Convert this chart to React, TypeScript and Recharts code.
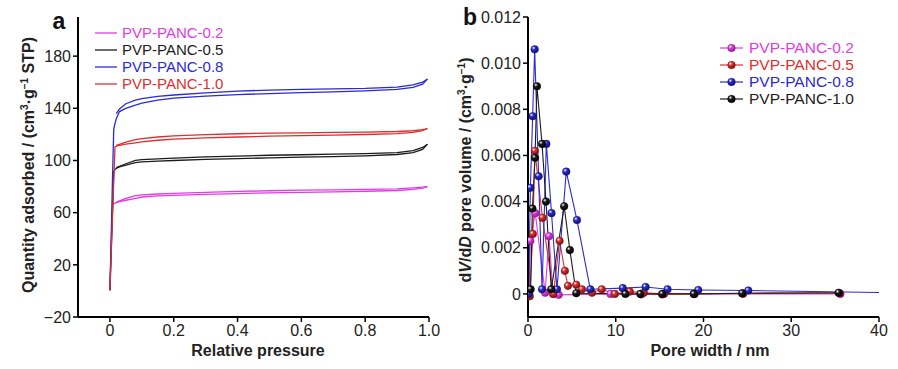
import React from "react";
import { LineChart, Line, XAxis, YAxis, Legend } from "recharts";

const FONT = '"Liberation Sans", Arial, Helvetica, sans-serif';

// ---- panel a : N2 isotherms ----
const pAds = [0, 0.004, 0.008, 0.012, 0.016, 0.02, 0.03, 0.05, 0.08, 0.1, 0.15, 0.2, 0.3, 0.4, 0.5, 0.6, 0.7, 0.8, 0.9, 0.95, 0.98, 0.995];
const pDes = [0.995, 0.98, 0.95, 0.9, 0.8, 0.7, 0.6, 0.5, 0.4, 0.3, 0.2, 0.15, 0.1, 0.08, 0.05, 0.03, 0.02];

const ads02 = [0.5, 36, 66, 66.8, 67.3, 67.7, 68.5, 69.5, 71, 72, 72.8, 73.3, 74, 74.6, 75.2, 75.6, 76, 76.4, 77, 77.8, 78.8, 80];
const des02 = [80, 79.5, 79, 78.3, 77.8, 77.5, 77.2, 76.8, 76.3, 75.6, 74.8, 74.3, 73.6, 73, 71, 69, 68];
const ads05 = [0.5, 30, 60, 91.5, 93, 94, 95, 96.5, 98.3, 99, 99.5, 100, 100.8, 101.4, 102, 102.5, 103, 103.6, 104.6, 106, 108.5, 112.5];
const des05 = [112.5, 110, 107.5, 106, 105.2, 104.8, 104.4, 104, 103.4, 102.7, 101.8, 101.3, 100.6, 100, 97.5, 95.5, 94.5];
const ads08 = [0.5, 40, 85, 124, 128.5, 132, 137.5, 140, 142.5, 144, 146.3, 147.8, 149.3, 150.5, 151.3, 152, 152.6, 153.3, 154.5, 156, 158.5, 162.5];
const des08 = [162.5, 160, 158, 156.3, 155.3, 154.9, 154.5, 154, 153.2, 151.8, 150.2, 149.2, 147.5, 146.3, 143.5, 139.5, 136];
const ads10 = [0.5, 28, 56, 84, 110.5, 111, 111.6, 112.5, 113.5, 114.2, 115.5, 116.4, 117.3, 118, 118.6, 119, 119.4, 119.9, 120.6, 121.5, 122.8, 124.5];
const des10 = [124.5, 123.6, 122.8, 122.2, 121.8, 121.5, 121.2, 120.9, 120.5, 119.8, 118.8, 118, 116.8, 116, 114, 112.3, 111.5];

const ticksA_x = [0, 0.2, 0.4, 0.6, 0.8, 1.0];
const ticksA_y = [-20, 20, 60, 100, 140, 180];

// ---- panel b : pore size distribution ----
const d02 = [0.12, 0.27, 0.83, 1.95, 2.4, 2.85, 3.5, 9.4, 12.9, 15.3, 18.9, 24.5, 35.6];
const v02 = [0, 0.0023, 0.0035, 0.00005, 0.0025, 0, -0.00004, 0, -0.00002, -0.00002, 0, 0, 0];
const d05 = [0.2, 0.55, 0.78, 1.65, 2.9, 3.6, 4.2, 4.55, 5.5, 6.15, 7.3, 8.4, 9.9, 11.6, 13.2, 15.5, 19, 24.5, 35.5];
const v05 = [-0.0001, 0.0026, 0.0062, 0.0033, 0, 0.0023, 0.001, 0.00035, 0.0004, 0.0002, 0.00005, 0.0002, 0, 0.0001, 0.00005, 0, 0, 0.00002, 0.00003];
const d08 = [0.08, 0.27, 0.53, 0.76, 1.21, 1.6, 2.09, 2.68, 3.3, 4.36, 5.58, 7.1, 10.8, 13.4, 15.9, 19.4, 25.1, 42];
const v08 = [0, 0.0046, 0.0077, 0.0106, 0.0051, 0.0002, 0.0065, 0.0035, 0.0002, 0.0053, 0.0032, 0.0002, 0.00025, 0.0003, 0.0002, 0.00017, 0.00015, 0.00005];
const d10 = [0.3, 0.5, 0.8, 1.02, 1.6, 2.05, 2.65, 4.12, 4.77, 5.5, 11.1, 12.8, 15.3, 18.9, 24.4, 35.4];
const v10 = [0.0002, 0.0037, 0.0059, 0.009, 0.0065, 0.004, 0.0002, 0.0038, 0.0019, 0.00003, 0, 0, 0, 0, 0.00003, 0.00005];

const ticksB_x = [0, 10, 20, 30, 40];
const ticksB_y = [0, 0.002, 0.004, 0.006, 0.008, 0.01, 0.012];

const MAGENTA = "#e03ce4";
const BLACK = "#1c1c1c";
const BLUE = "#2a2ad6";
const RED = "#dd2f2f";

const zip = (xs: number[], ys: number[]) => xs.map((x, i) => ({ x, y: ys[i] }));

const seriesA = [
  { name: "PVP-PANC-0.2", color: MAGENTA, ads: zip(pAds, ads02), des: zip(pDes, des02) },
  { name: "PVP-PANC-0.5", color: BLACK, ads: zip(pAds, ads05), des: zip(pDes, des05) },
  { name: "PVP-PANC-0.8", color: BLUE, ads: zip(pAds, ads08), des: zip(pDes, des08) },
  { name: "PVP-PANC-1.0", color: RED, ads: zip(pAds, ads10), des: zip(pDes, des10) },
];

const seriesB = [
  { name: "PVP-PANC-0.2", color: MAGENTA, dark: "#8a1f8c", id: "sph-m", data: zip(d02, v02) },
  { name: "PVP-PANC-0.5", color: RED, dark: "#7a1010", id: "sph-r", data: zip(d05, v05) },
  { name: "PVP-PANC-0.8", color: BLUE, dark: "#10106e", id: "sph-b", data: zip(d08, v08) },
  { name: "PVP-PANC-1.0", color: BLACK, dark: "#000000", id: "sph-k", data: zip(d10, v10) },
];

const tickStyle = { fill: "#222", fontSize: 16, fontFamily: FONT };
const MARGIN = { top: 17, right: 21, bottom: 22, left: 18 };
const frameLine = { stroke: "#000", strokeWidth: 2 };
const tickLine = { stroke: "#000", strokeWidth: 1.5 };

const fmtAy = (v: number) => (v < 0 ? `\u2212${Math.abs(v)}` : String(v));
const fmtAx = (v: number) => (v === 0 ? "0" : v.toFixed(1));
const fmtBy = (v: number) => (v === 0 ? "0" : v.toFixed(3));

function sphere(s: { dark: string; id: string }) {
  return (props: any) => {
    const { cx, cy, index } = props;
    if (cx == null || cy == null) return <g key={index} />;
    return <circle key={index} cx={cx} cy={cy} r={3.8} fill={`url(#${s.id})`} stroke={s.dark} strokeWidth={0.5} />;
  };
}

function LegendA() {
  return (
    <div style={{ fontFamily: FONT, fontSize: 15 }}>
      {seriesA.map((s) => (
        <div key={s.name} style={{ display: "flex", alignItems: "center", height: 17 }}>
          <svg width={22} height={10}>
            <line x1={0} y1={5} x2={22} y2={5} stroke={s.color} strokeWidth={1.3} />
          </svg>
          <span style={{ color: s.color, marginLeft: 5, whiteSpace: "nowrap" }}>{s.name}</span>
        </div>
      ))}
    </div>
  );
}

function LegendB() {
  return (
    <div style={{ fontFamily: FONT, fontSize: 15.5 }}>
      {seriesB.map((s) => (
        <div key={s.name} style={{ display: "flex", alignItems: "center", height: 17 }}>
          <svg width={23} height={10}>
            <line x1={0} y1={5} x2={23} y2={5} stroke={s.color} strokeWidth={1.2} />
            <circle cx={11.5} cy={5} r={3.8} fill={`url(#${s.id})`} stroke={s.dark} strokeWidth={0.5} />
          </svg>
          <span style={{ color: s.color, marginLeft: 6, whiteSpace: "nowrap" }}>{s.name}</span>
        </div>
      ))}
    </div>
  );
}

export default function App() {
  return (
    <div style={{ position: "absolute", left: 0, top: 0, width: 898, height: 369, background: "#fff" }}>
      <svg width={0} height={0} style={{ position: "absolute" }}>
        <defs>
          {seriesB.map((s) => (
            <radialGradient key={s.id} id={s.id} cx="35%" cy="32%" r="70%">
              <stop offset="0%" stopColor="#ffffff" />
              <stop offset="35%" stopColor={s.color} />
              <stop offset="100%" stopColor={s.dark} />
            </radialGradient>
          ))}
        </defs>
      </svg>

      {/* panel a */}
      <div style={{ position: "absolute", left: 0, top: 0 }}>
        <LineChart width={450} height={369} margin={MARGIN}>
          <XAxis
            dataKey="x"
            type="number"
            domain={[-0.1, 1.0]}
            ticks={ticksA_x}
            tickFormatter={fmtAx}
            tick={tickStyle}
            tickSize={5}
            tickMargin={3}
            height={30}
            allowDataOverflow
            axisLine={frameLine}
            tickLine={tickLine}
          />
          <XAxis xAxisId="top" orientation="top" height={0} tick={false} tickLine={false} axisLine={frameLine} />
          <YAxis
            type="number"
            domain={[-20, 210]}
            ticks={ticksA_y}
            tickFormatter={fmtAy}
            tick={tickStyle}
            tickSize={5}
            tickMargin={2}
            width={60}
            allowDataOverflow
            axisLine={frameLine}
            tickLine={tickLine}
          />
          <YAxis yAxisId="right" orientation="right" width={0} tick={false} tickLine={false} axisLine={frameLine} />
          {seriesA.map((s) => [
            <Line key={s.name + "a"} data={s.ads} dataKey="y" name={s.name} stroke={s.color} strokeWidth={1.3} dot={false} isAnimationActive={false} type="linear" />,
            <Line key={s.name + "d"} data={s.des} dataKey="y" name={s.name + " des"} stroke={s.color} strokeWidth={1.3} dot={false} isAnimationActive={false} type="linear" legendType="none" />,
          ])}
          <Legend layout="vertical" align="center" verticalAlign="middle" content={() => <LegendA />} wrapperStyle={{ top: 24, left: 95, width: "auto" }} />
          <text x={59} y={29} textAnchor="middle" fontFamily={FONT} fontWeight="bold" fontSize={23} fill="#111">a</text>
          <text x={258} y={356} textAnchor="middle" fontFamily={FONT} fontWeight="bold" fontSize={16} fill="#222">Relative pressure</text>
          <text x={34} y={165} textAnchor="middle" fontFamily={FONT} fontWeight="bold" fontSize={16} fill="#222" transform="rotate(-90 34 165)">
            Quantity adsorbed / (cm<tspan fontSize={10} dy={-6}>3</tspan><tspan dy={6}>·g</tspan><tspan fontSize={10} dy={-6}>−1</tspan><tspan dy={6}> STP)</tspan>
          </text>
        </LineChart>
      </div>

      {/* panel b */}
      <div style={{ position: "absolute", left: 450, top: 0 }}>
        <LineChart width={450} height={369} margin={MARGIN}>
          <XAxis
            dataKey="x"
            type="number"
            domain={[0, 40]}
            ticks={ticksB_x}
            tick={tickStyle}
            tickSize={5}
            tickMargin={3}
            height={30}
            allowDataOverflow
            axisLine={frameLine}
            tickLine={tickLine}
          />
          <XAxis xAxisId="top" orientation="top" height={0} tick={false} tickLine={false} axisLine={frameLine} />
          <YAxis
            type="number"
            domain={[-0.001, 0.012]}
            ticks={ticksB_y}
            tickFormatter={fmtBy}
            tick={tickStyle}
            tickSize={5}
            tickMargin={2}
            width={60}
            allowDataOverflow
            axisLine={frameLine}
            tickLine={tickLine}
          />
          <YAxis yAxisId="right" orientation="right" width={0} tick={false} tickLine={false} axisLine={frameLine} />
          {seriesB.map((s) => (
            <Line key={s.name} data={s.data} dataKey="y" name={s.name} stroke={s.color} strokeWidth={1.1} dot={sphere(s)} activeDot={false} isAnimationActive={false} type="linear" />
          ))}
          <Legend layout="vertical" align="center" verticalAlign="middle" content={() => <LegendB />} wrapperStyle={{ top: 39, left: 270, width: "auto" }} />
          <text x={20} y={25} textAnchor="middle" fontFamily={FONT} fontWeight="bold" fontSize={23} fill="#111">b</text>
          <text x={260} y={356} textAnchor="middle" fontFamily={FONT} fontWeight="bold" fontSize={16} fill="#222">Pore width / nm</text>
          <text x={21} y={170} textAnchor="middle" fontFamily={FONT} fontWeight="bold" fontSize={16} fill="#222" transform="rotate(-90 21 170)">
            d<tspan fontStyle="italic">V</tspan>/d<tspan fontStyle="italic">D</tspan> pore volume / (cm<tspan fontSize={10} dy={-6}>3</tspan><tspan dy={6}>·g</tspan><tspan fontSize={10} dy={-6}>−1</tspan><tspan dy={6}>)</tspan>
          </text>
        </LineChart>
      </div>
    </div>
  );
}
